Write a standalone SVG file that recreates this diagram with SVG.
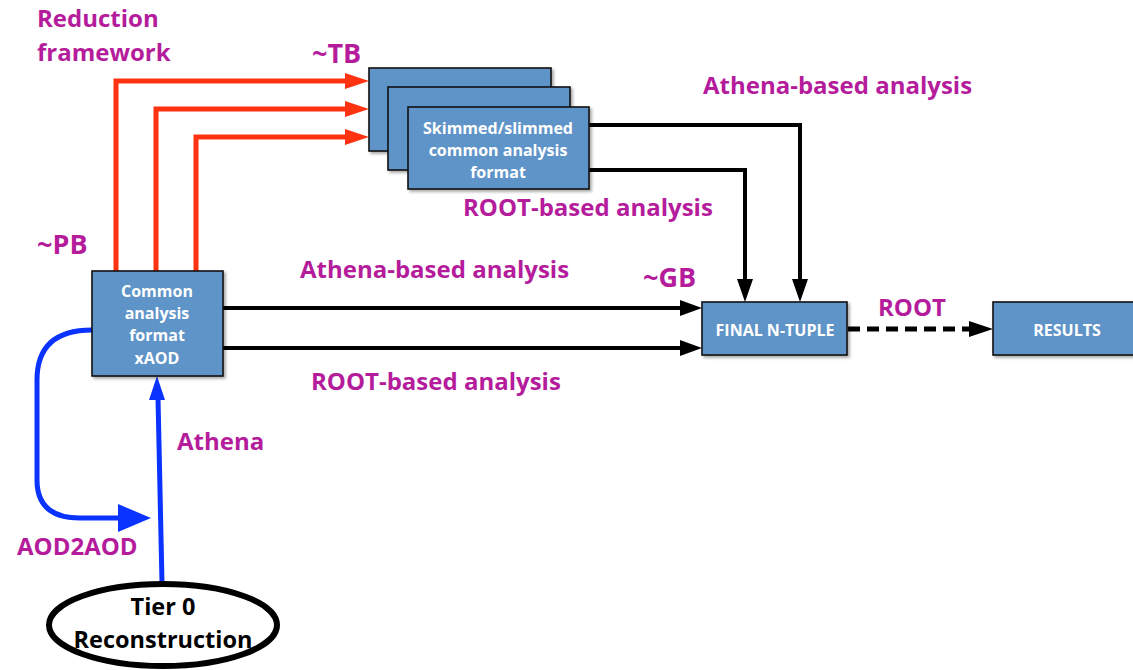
<svg xmlns="http://www.w3.org/2000/svg" width="1133" height="670" viewBox="0 0 1133 670">
<defs>
<style>
.box{fill:#5F94C8;stroke:#111;stroke-width:1.6}
.bt{font-family:"Open Sans",Lato,sans-serif;font-weight:bold;fill:#fff;text-anchor:middle;font-size:16px}
.lbl{font-family:"Open Sans",Lato,sans-serif;font-weight:bold;fill:#B51C9C;font-size:24px}
.big{font-size:27px}
.red{fill:none;stroke:#FF3311;stroke-width:5}
.blk{fill:none;stroke:#000;stroke-width:4}
.blue{fill:none;stroke:#0A33FF;stroke-width:5}
</style>
<filter id="sh" x="-10%" y="-10%" width="130%" height="130%">
<feDropShadow dx="2" dy="2" stdDeviation="1.5" flood-color="#000" flood-opacity="0.35"/>
</filter>
</defs>
<rect width="1133" height="670" fill="#fff"/>

<g id="connectors">
<path class="red" d="M116,271 V81 H348"/>
<path class="red" d="M156,271 V109 H348"/>
<path class="red" d="M196,271 V137 H348"/>
<polygon fill="#FF3311" points="345,73 369,81 345,89"/>
<polygon fill="#FF3311" points="345,101 369,109 345,117"/>
<polygon fill="#FF3311" points="345,129 369,137 345,145"/>
<path class="blk" d="M223,308 H682"/>
<path class="blk" d="M223,348 H682"/>
<polygon fill="#000" points="680,300 702,308 680,316"/>
<polygon fill="#000" points="680,340 702,348 680,356"/>
<path class="blk" d="M589,125 H800 V282"/>
<path class="blk" d="M589,170 H745 V282"/>
<polygon fill="#000" points="792,279 800,302 808,279"/>
<polygon fill="#000" points="737,279 745,302 753,279"/>
<path d="M848,329 H972" fill="none" stroke="#000" stroke-width="5" stroke-dasharray="12,7"/>
<polygon fill="#000" points="969,321 993,329 969,337"/>
<path class="blue" d="M162,583 L158,398"/>
<polygon fill="#0A33FF" points="149,400 157,376 165,400"/>
<path class="blue" d="M92,330 Q37,330 37,380 V480 Q37,518 80,518 H122"/>
<polygon fill="#0A33FF" points="118,504 151,518 118,532"/>
</g>

<g id="stack" filter="url(#sh)">
<rect class="box" x="369" y="68" width="182" height="83"/>
<rect class="box" x="388" y="87" width="182" height="83"/>
<rect class="box" x="408" y="107" width="181" height="82"/>
</g>
<g id="stack-text">
<text class="bt" x="498" y="134">Skimmed/slimmed</text>
<text class="bt" x="498" y="156">common analysis</text>
<text class="bt" x="498" y="178">format</text>
</g>

<g id="common">
<rect class="box" x="92" y="271" width="131" height="105" filter="url(#sh)"/>
<text class="bt" x="157" y="297">Common</text>
<text class="bt" x="157" y="319">analysis</text>
<text class="bt" x="157" y="341">format</text>
<text class="bt" x="157" y="364">xAOD</text>
</g>

<g id="final">
<rect class="box" x="702" y="302" width="145" height="53" filter="url(#sh)"/>
<text class="bt" x="775" y="336">FINAL N-TUPLE</text>
</g>

<g id="results">
<rect class="box" x="993" y="302" width="145" height="53" filter="url(#sh)"/>
<text class="bt" x="1067" y="336">RESULTS</text>
</g>

<g id="tier0">
<ellipse cx="163" cy="625" rx="114" ry="41" fill="#fff" stroke="#000" stroke-width="6"/>
<text x="163" y="615" font-family="'Open Sans',Lato,sans-serif" font-weight="bold" font-size="23.5" text-anchor="middle" fill="#000">Tier 0</text>
<text x="163" y="648" font-family="'Open Sans',Lato,sans-serif" font-weight="bold" font-size="23.5" text-anchor="middle" fill="#000">Reconstruction</text>
</g>

<g id="labels">
<text class="lbl" x="37" y="27">Reduction</text>
<text class="lbl" x="37" y="61">framework</text>
<text class="lbl big" x="312" y="63">~TB</text>
<text class="lbl big" x="37" y="254">~PB</text>
<text class="lbl" x="703" y="94">Athena-based analysis</text>
<text class="lbl" x="463" y="216">ROOT-based analysis</text>
<text class="lbl" x="300" y="278">Athena-based analysis</text>
<text class="lbl big" x="643" y="287">~GB</text>
<text class="lbl" x="311" y="390">ROOT-based analysis</text>
<text class="lbl" x="878" y="316">ROOT</text>
<text class="lbl" x="177" y="450">Athena</text>
<text class="lbl" x="17" y="555">AOD2AOD</text>
</g>
</svg>
